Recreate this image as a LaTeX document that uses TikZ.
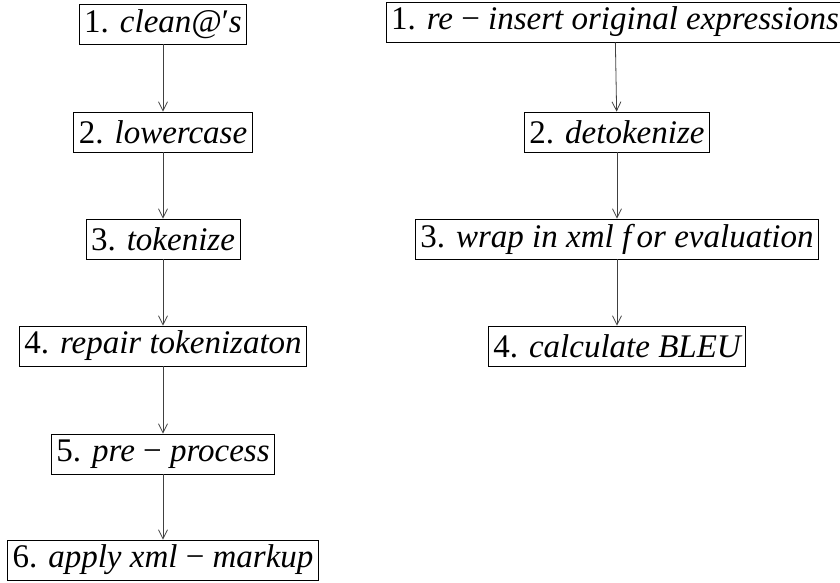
\documentclass[tikz,border=0pt]{standalone}
\usepackage{fontspec}
\newfontfamily\rmtimes{Liberation Serif}
\usetikzlibrary{arrows.meta}
\newcommand{\mi}[1]{{\itshape #1}}
\newcommand{\mminus}{\ \textup{−}\ }
\begin{document}
\begin{tikzpicture}[x=1pt,y=-1pt,
  stepbox/.style={draw=black, line width=0.8pt, inner xsep=5pt, inner ysep=0pt, minimum height=40pt,
    font=\rmtimes\fontsize{33}{38}\selectfont},
  flow/.style={draw=black!75, line width=0.8pt, -{Straight Barb[length=9pt,width=9pt]}}]
\useasboundingbox (0,0) rectangle (840,583);
\node[stepbox] (a1) at (163,24) {1. \mi{clean@\textup{′}s}};
\node[stepbox] (a2) at (163,132) {2. \mi{lowercase}};
\node[stepbox] (a3) at (163,239) {3. \mi{tokenize}};
\node[stepbox] (a4) at (163,346) {4. \mi{repair tokenizaton}};
\node[stepbox] (a5) at (163,454) {5. \mi{pre\mminus process}};
\node[stepbox] (a6) at (163,560) {6. \mi{apply xml\mminus markup}};
\node[stepbox] (b1) at (615,22) {1. \mi{re\mminus insert original expressions}};
\node[stepbox] (b2) at (617,132) {2. \mi{detokenize}};
\node[stepbox] (b3) at (617,239) {3. \mi{wrap in xml f\,or evaluation}};
\node[stepbox] (b4) at (617,346) {4. \mi{calculate BLEU}};
\draw[flow] (a1) -- (a2);
\draw[flow] (a2) -- (a3);
\draw[flow] (a3) -- (a4);
\draw[flow] (a4) -- (a5);
\draw[flow] (a5) -- (a6);
\draw[flow] (b1) -- (b2);
\draw[flow] (b2) -- (b3);
\draw[flow] (b3) -- (b4);
\end{tikzpicture}
\end{document}
